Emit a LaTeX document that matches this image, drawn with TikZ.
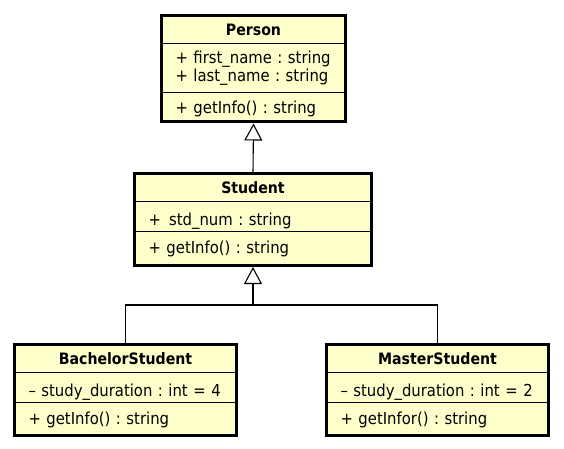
\documentclass[tikz,border=0pt]{standalone}
\usepackage{fontspec}
\setmainfont{DejaVu Sans Condensed}
\usepackage{tikz}
\usetikzlibrary{positioning,arrows.meta}
\definecolor{classfill}{RGB}{255,255,204}
\frenchspacing

\begin{document}
\begin{tikzpicture}[
        x=1pt, y=-1pt,
        every node/.style = {draw, fill=classfill, line width=0.8pt, outer sep=0pt,
                             inner ysep=0pt, inner xsep=12pt, font=\fontsize{16.5}{18.3}\selectfont},
        member/.style = {text width=#1-24pt, align=left},
        classhead/.style = {member=#1, align=center, minimum height=28pt, text height=12pt,
                            text depth=0pt, font=\fontsize{15.7}{18}\selectfont\bfseries},
        attrs/.style = {member=#1, minimum height=30pt, text height=18pt, text depth=0pt},
        ops/.style = {member=#1, minimum height=33pt, text height=10pt, text depth=0pt},
        frame/.style = {draw, line width=3pt},
        inherit/.style = {draw, line width=1.1pt, -{Triangle[open, length=17pt, width=18pt]}, shorten >=1.5pt},
      ]
      \useasboundingbox (0,0) rectangle (564,449);

      % Person
      \node[classhead=184pt, anchor=north] (person) at (253.5,15.5) {Person};
      \node[member=184pt, minimum height=49pt, below=0pt of person] (person-attrs)
        {\hspace{2pt}+ first\_name : string\\\hspace{2pt}+ last\_name : string};
      \node[ops=184pt, minimum height=29.5pt, text height=13pt, below=0pt of person-attrs] (person-ops)
        {\hspace{2pt}+ getInfo() : string};

      % Student
      \node[classhead=237pt, anchor=north] (student) at (253,173.5) {Student};
      \node[attrs=237pt, below=0pt of student] (student-attrs) {\hspace{2pt}+ \,std\_num : string};
      \node[ops=237pt, minimum height=34pt, below=0pt of student-attrs] (student-ops)
        {\hspace{2pt}+ getInfo() : string};

      % subclasses
      \node[classhead=222pt, anchor=north] (bachelor) at (125.5,344.5) {BachelorStudent};
      \node[attrs=222pt, below=0pt of bachelor] (bachelor-attrs) {\hspace{2pt}– study\_duration : int = 4};
      \node[ops=222pt, below=0pt of bachelor-attrs] (bachelor-ops) {\hspace{2pt}+ getInfo() : string};

      \node[classhead=222pt, anchor=north] (master) at (437.5,344.5) {MasterStudent};
      \node[attrs=222pt, below=0pt of master] (master-attrs) {\hspace{2pt}– study\_duration : int = 2};
      \node[ops=222pt, below=0pt of master-attrs] (master-ops) {\hspace{2pt}+ getInfor() : string};

      \foreach \head/\foot in {person/person-ops, student/student-ops, bachelor/bachelor-ops, master/master-ops}
        \draw[frame] (\head.north west) rectangle (\foot.south east);

      % generalizations
      \draw[inherit, shorten <=1.5pt] (student.north) -- (person-ops.south);
      \path (student-ops.south) ++(0,39.5) coordinate (bus);
      \draw[inherit] (bachelor.north) |- (bus) -- (student-ops.south);
      \draw[line width=1.1pt] (master.north) |- (bus);

    \end{tikzpicture}
\end{document}
